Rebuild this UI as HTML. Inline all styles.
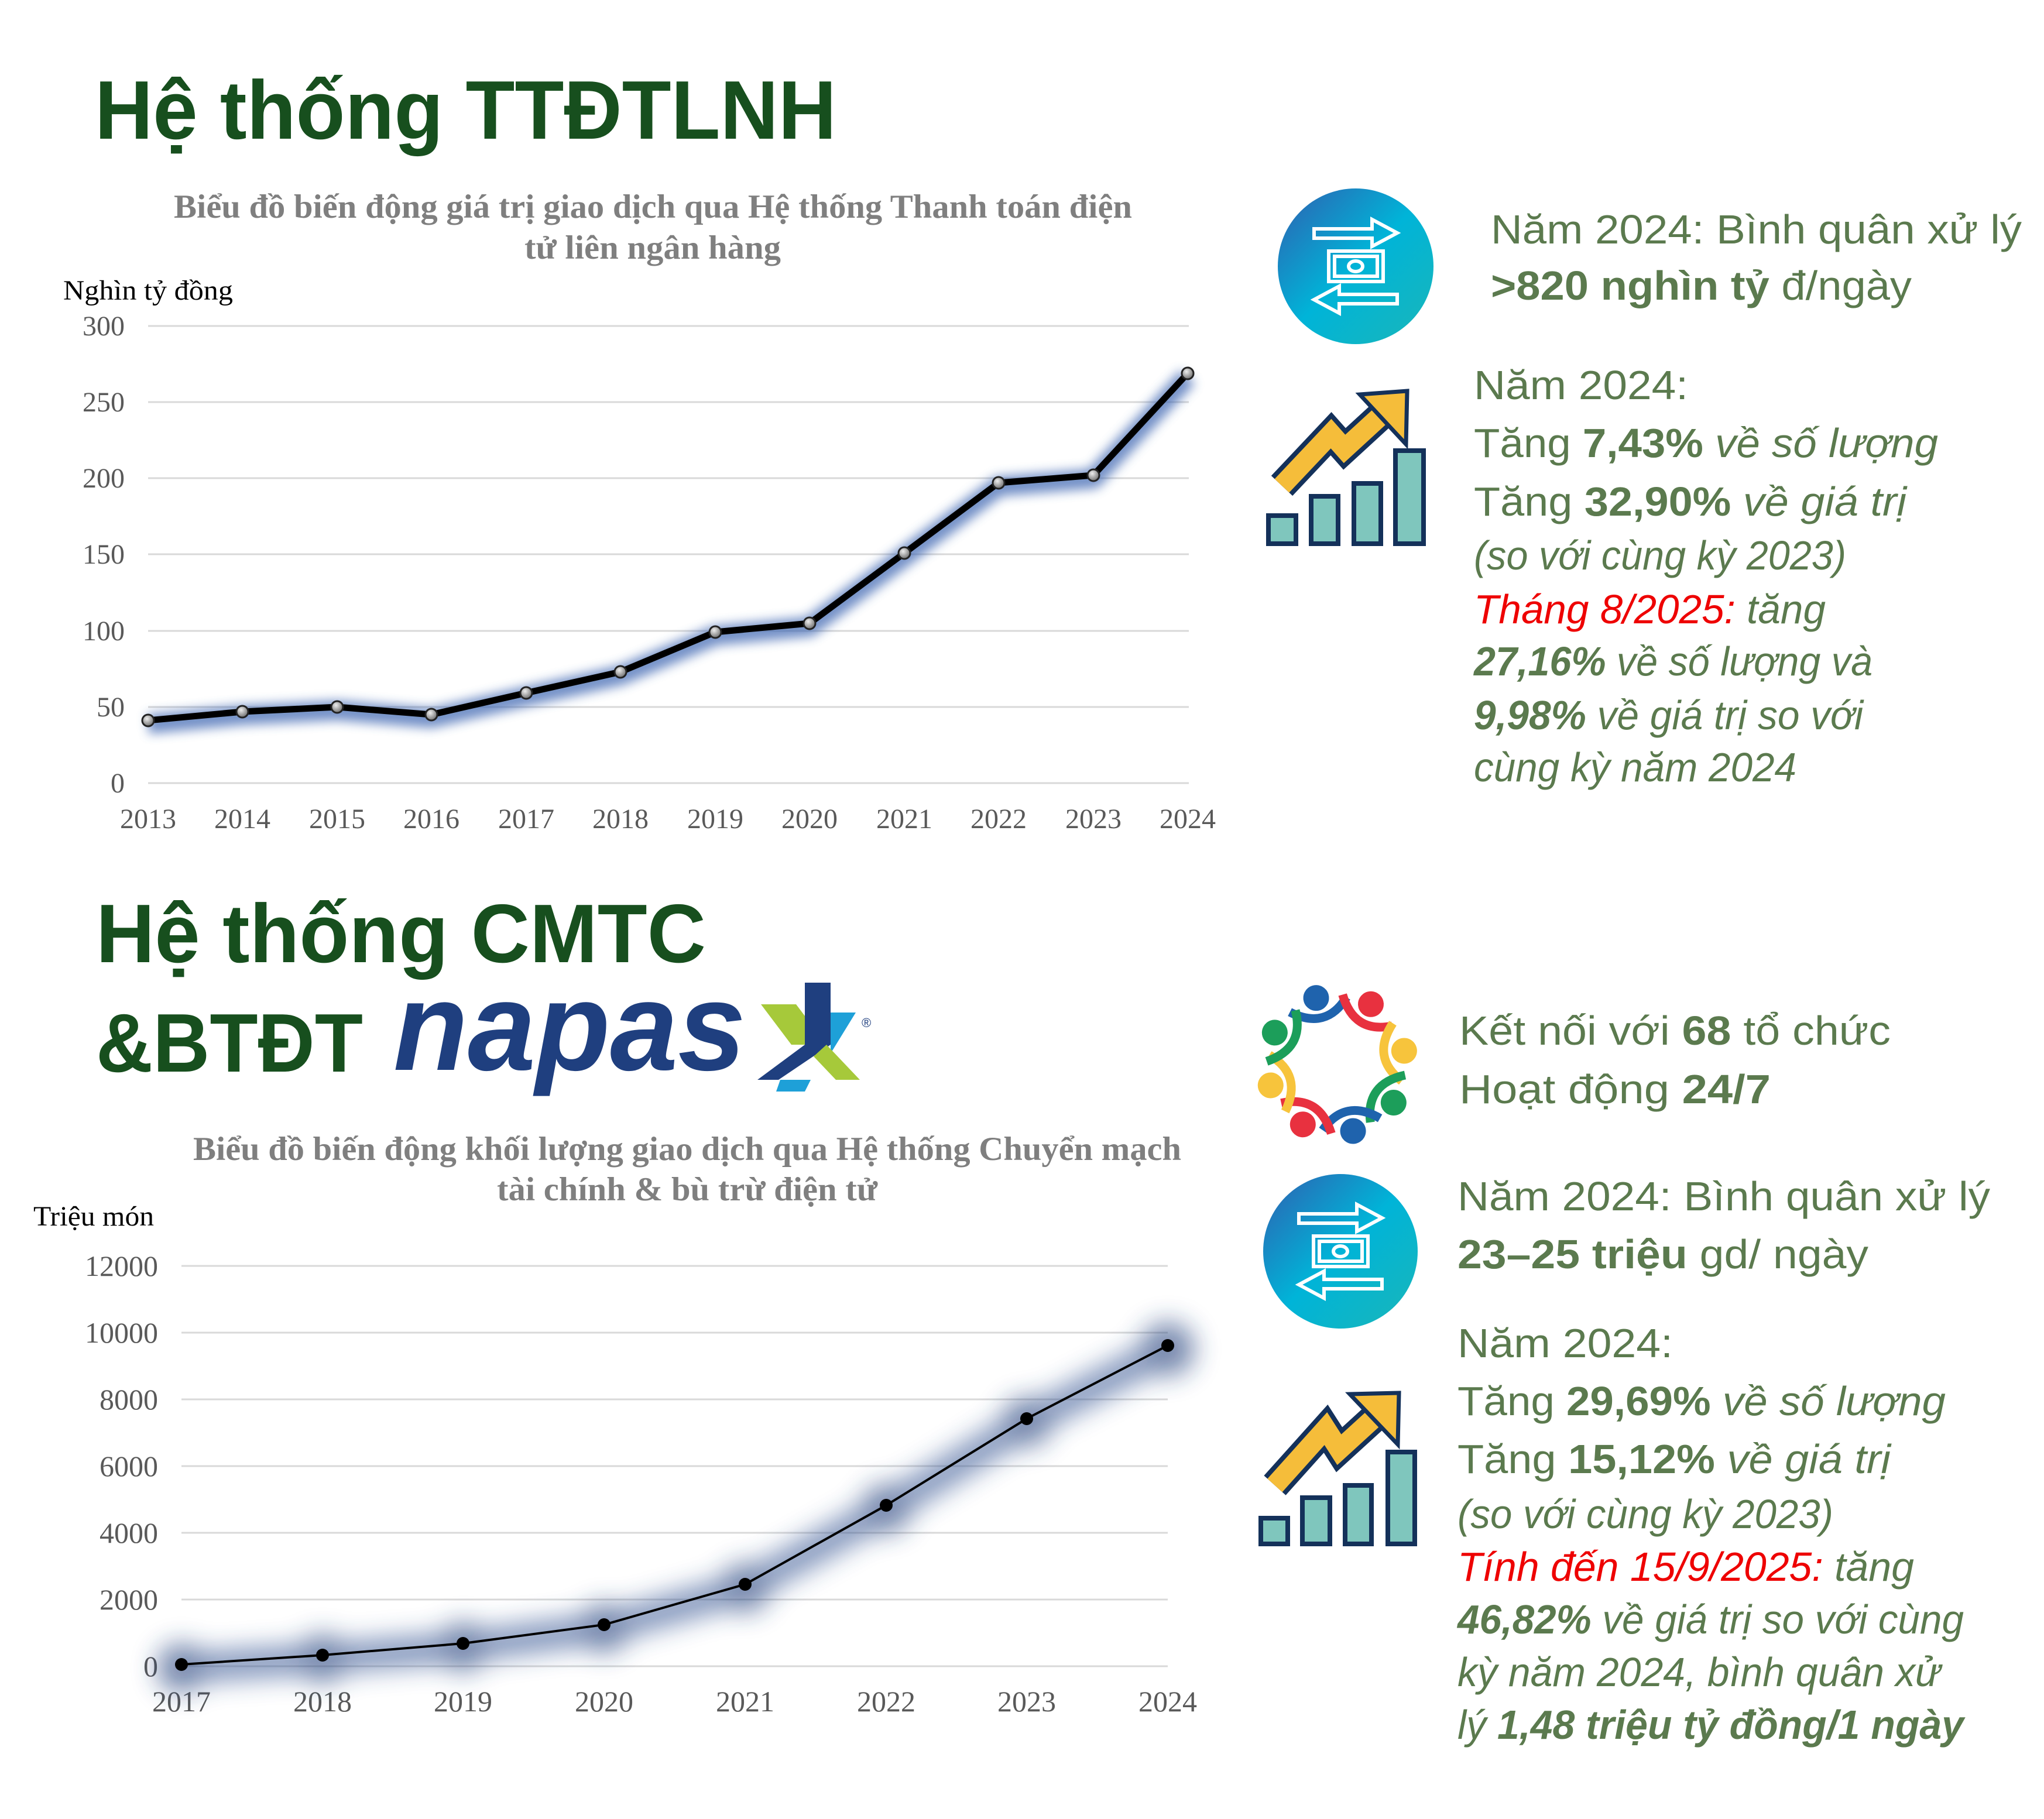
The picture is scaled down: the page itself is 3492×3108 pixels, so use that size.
<!DOCTYPE html>
<html><head><meta charset="utf-8"><style>
html,body{margin:0;padding:0;background:#fff}
svg{display:block}
</style></head><body>
<svg xmlns="http://www.w3.org/2000/svg" width="3492" height="3108" viewBox="0 0 3492 3108">
<defs>
<filter id="g1" x="-10%" y="-20%" width="120%" height="140%"><feGaussianBlur stdDeviation="9"/></filter>
<filter id="g2" x="-10%" y="-20%" width="120%" height="140%"><feGaussianBlur stdDeviation="22"/></filter>
<linearGradient id="cg" x1="0" y1="0" x2="1" y2="1">
<stop offset="0" stop-color="#2f5fb0"/><stop offset="0.5" stop-color="#00b4d8"/><stop offset="1" stop-color="#1ab6b8"/>
</linearGradient>
<radialGradient id="mk" cx="0.4" cy="0.35" r="0.7"><stop offset="0" stop-color="#eee"/><stop offset="1" stop-color="#666"/></radialGradient>
</defs>

<!-- Titles -->
<g font-family="Liberation Sans, sans-serif" font-weight="bold" fill="#174f1e">
<text x="162" y="237" font-size="142" textLength="1267" lengthAdjust="spacingAndGlyphs">Hệ thống TTĐTLNH</text>
<text x="164" y="1644" font-size="142" textLength="1042" lengthAdjust="spacingAndGlyphs">Hệ thống CMTC</text>
<text x="164" y="1831" font-size="142" textLength="456" lengthAdjust="spacingAndGlyphs">&amp;BTĐT</text>
</g>
<!-- napas logo -->
<text x="672" y="1828" font-family="Liberation Sans, sans-serif" font-weight="bold" font-style="italic" font-size="215" fill="#1f3f7f" textLength="602" lengthAdjust="spacingAndGlyphs">napas</text>
<g>
<polygon points="1300,1716 1360,1716 1412,1785 1352,1785" fill="#a6c93a"/>
<polygon points="1375,1679 1419,1679 1419,1785 1375,1785" fill="#1f3f7f"/>
<polygon points="1419,1730 1462,1730 1419,1800" fill="#1ea0d8"/>
<polygon points="1375,1785 1419,1785 1330,1845 1294,1845" fill="#1f3f7f"/>
<polygon points="1412,1785 1469,1845 1428,1845 1390,1805" fill="#a6c93a"/>
<polygon points="1333,1845 1385,1845 1375,1865 1326,1865" fill="#1ea0d8"/>
<text x="1472" y="1755" font-family="Liberation Sans, sans-serif" font-size="22" fill="#1f3f7f">®</text>
</g>

<!-- Chart 1 -->
<g font-family="Liberation Serif, serif" font-weight="bold" fill="#7f7f7f" font-size="57">
<text x="297" y="372" textLength="1637" lengthAdjust="spacingAndGlyphs">Biểu đồ biến động giá trị giao dịch qua Hệ thống Thanh toán điện</text>
<text x="896" y="442" textLength="438" lengthAdjust="spacingAndGlyphs">tử liên ngân hàng</text>
</g>
<text x="108" y="512" font-family="Liberation Serif, serif" font-size="48" fill="#000" textLength="290" lengthAdjust="spacingAndGlyphs">Nghìn tỷ đồng</text>
<g stroke="#d9d9d9" stroke-width="3">
<line x1="253" y1="557" x2="2031" y2="557"/><line x1="253" y1="687" x2="2031" y2="687"/>
<line x1="253" y1="817" x2="2031" y2="817"/><line x1="253" y1="947" x2="2031" y2="947"/>
<line x1="253" y1="1078" x2="2031" y2="1078"/><line x1="253" y1="1208" x2="2031" y2="1208"/>
<line x1="253" y1="1338" x2="2031" y2="1338"/>
</g>
<g font-family="Liberation Serif, serif" font-size="48" fill="#595959" text-anchor="end">
<text x="213" y="573">300</text><text x="213" y="703">250</text><text x="213" y="833">200</text>
<text x="213" y="963">150</text><text x="213" y="1094">100</text><text x="213" y="1224">50</text><text x="213" y="1354">0</text>
</g>
<g font-family="Liberation Serif, serif" font-size="48" fill="#595959" text-anchor="middle">
<text x="253" y="1415">2013</text><text x="414" y="1415">2014</text><text x="576" y="1415">2015</text>
<text x="737" y="1415">2016</text><text x="899" y="1415">2017</text><text x="1060" y="1415">2018</text>
<text x="1222" y="1415">2019</text><text x="1383" y="1415">2020</text><text x="1545" y="1415">2021</text>
<text x="1706" y="1415">2022</text><text x="1868" y="1415">2023</text><text x="2029" y="1415">2024</text>
</g>
<polyline points="253,1237 414,1222 576,1214 737,1227 899,1190 1060,1154 1222,1086 1383,1071 1545,951 1706,831 1868,818 2029,644" fill="none" stroke="#3a64b0" stroke-width="34" stroke-linejoin="round" opacity="0.7" filter="url(#g1)"/>
<polyline points="253,1231 414,1216 576,1208 737,1221 899,1184 1060,1148 1222,1080 1383,1065 1545,945 1706,825 1868,812 2029,638" fill="none" stroke="#000" stroke-width="11" stroke-linejoin="round"/>
<g fill="url(#mk)" stroke="#222" stroke-width="3">
<circle cx="253" cy="1231" r="10"/><circle cx="414" cy="1216" r="10"/><circle cx="576" cy="1208" r="10"/>
<circle cx="737" cy="1221" r="10"/><circle cx="899" cy="1184" r="10"/><circle cx="1060" cy="1148" r="10"/>
<circle cx="1222" cy="1080" r="10"/><circle cx="1383" cy="1065" r="10"/><circle cx="1545" cy="945" r="10"/>
<circle cx="1706" cy="825" r="10"/><circle cx="1868" cy="812" r="10"/><circle cx="2029" cy="638" r="10"/>
</g>

<!-- Chart 2 -->
<g font-family="Liberation Serif, serif" font-weight="bold" fill="#7f7f7f" font-size="57">
<text x="330" y="1982" textLength="1688" lengthAdjust="spacingAndGlyphs">Biểu đồ biến động khối lượng giao dịch qua Hệ thống Chuyển mạch</text>
<text x="849" y="2051" textLength="650" lengthAdjust="spacingAndGlyphs">tài chính &amp; bù trừ điện tử</text>
</g>
<text x="57" y="2094" font-family="Liberation Serif, serif" font-size="48" fill="#000" textLength="206" lengthAdjust="spacingAndGlyphs">Triệu món</text>
<g stroke="#d9d9d9" stroke-width="3">
<line x1="310" y1="2163" x2="1995" y2="2163"/><line x1="310" y1="2277" x2="1995" y2="2277"/>
<line x1="310" y1="2391" x2="1995" y2="2391"/><line x1="310" y1="2505" x2="1995" y2="2505"/>
<line x1="310" y1="2619" x2="1995" y2="2619"/><line x1="310" y1="2733" x2="1995" y2="2733"/>
<line x1="310" y1="2847" x2="1995" y2="2847"/>
</g>
<g font-family="Liberation Serif, serif" font-size="50" fill="#595959" text-anchor="end">
<text x="270" y="2180">12000</text><text x="270" y="2294">10000</text><text x="270" y="2408">8000</text>
<text x="270" y="2522">6000</text><text x="270" y="2636">4000</text><text x="270" y="2750">2000</text><text x="270" y="2864">0</text>
</g>
<g font-family="Liberation Serif, serif" font-size="50" fill="#595959" text-anchor="middle">
<text x="310" y="2924">2017</text><text x="551" y="2924">2018</text><text x="791" y="2924">2019</text>
<text x="1032" y="2924">2020</text><text x="1273" y="2924">2021</text><text x="1514" y="2924">2022</text>
<text x="1754" y="2924">2023</text><text x="1995" y="2924">2024</text>
</g>
<g filter="url(#g2)" opacity="0.6">
<polyline points="310,2850 551,2834 791,2814 1032,2782 1273,2713 1514,2578 1754,2430 1995,2305" fill="none" stroke="#2c4c8c" stroke-width="50" stroke-linejoin="round"/>
<g fill="#1e3a78">
<circle cx="310" cy="2850" r="42"/><circle cx="551" cy="2834" r="42"/><circle cx="791" cy="2814" r="42"/>
<circle cx="1032" cy="2782" r="42"/><circle cx="1273" cy="2713" r="42"/><circle cx="1514" cy="2578" r="42"/>
<circle cx="1754" cy="2430" r="42"/><circle cx="1995" cy="2305" r="46"/>
</g></g>
<polyline points="310,2844 551,2828 791,2808 1032,2776 1273,2707 1514,2572 1754,2424 1995,2299" fill="none" stroke="#000" stroke-width="4"/>
<g fill="#000">
<circle cx="310" cy="2844" r="11"/><circle cx="551" cy="2828" r="11"/><circle cx="791" cy="2808" r="11"/>
<circle cx="1032" cy="2776" r="11"/><circle cx="1273" cy="2707" r="11"/><circle cx="1514" cy="2572" r="11"/>
<circle cx="1754" cy="2424" r="11"/><circle cx="1995" cy="2299" r="11"/>
</g>

<!-- Exchange icons -->
<g transform="translate(2316,455)">
<circle r="133" fill="url(#cg)"/>
<g fill="none" stroke="#fff" stroke-width="6" stroke-linejoin="miter">
<polygon points="-71,-64 28,-64 28,-80 71,-57 28,-34 28,-48 -71,-48"/>
<rect x="-46" y="-26" width="93" height="52"/><rect x="-36" y="-17" width="73" height="34"/>
<ellipse cx="0" cy="0" rx="12" ry="9"/>
<polygon points="71,48 -28,48 -28,34 -71,57 -28,80 -28,64 71,64"/>
</g></g>
<g transform="translate(2290,2138)">
<circle r="132" fill="url(#cg)"/>
<g fill="none" stroke="#fff" stroke-width="6">
<polygon points="-71,-64 28,-64 28,-80 71,-57 28,-34 28,-48 -71,-48"/>
<rect x="-46" y="-26" width="93" height="52"/><rect x="-36" y="-17" width="73" height="34"/>
<ellipse cx="0" cy="0" rx="12" ry="9"/>
<polygon points="71,48 -28,48 -28,34 -71,57 -28,80 -28,64 71,64"/>
</g></g>

<!-- Chart icons -->
<g stroke="#14315a" stroke-width="8" fill="#7fc6bd">
<rect x="2167" y="881" width="47" height="48"/><rect x="2240" y="848" width="46" height="81"/>
<rect x="2313" y="826" width="46" height="103"/><rect x="2384" y="770" width="48" height="159"/>
<rect x="2154" y="2594" width="46" height="44"/><rect x="2225" y="2559" width="47" height="79"/>
<rect x="2298" y="2538" width="45" height="100"/><rect x="2371" y="2481" width="46" height="157"/>
</g>
<g fill="none" stroke-linejoin="miter" stroke-linecap="butt">
<polyline points="2190,830 2274,741 2297,767 2370,700" stroke="#14315a" stroke-width="50"/>
<polyline points="2190,830 2274,741 2297,767 2370,700" stroke="#f5bd3a" stroke-width="34"/>
<polyline points="2178,2538 2265,2441 2288,2477 2357,2414" stroke="#14315a" stroke-width="50"/>
<polyline points="2178,2538 2265,2441 2288,2477 2357,2414" stroke="#f5bd3a" stroke-width="34"/>
</g>
<polygon points="2323,674 2404,668 2402,759" fill="#f5bd3a" stroke="#14315a" stroke-width="7"/>
<polygon points="2306,2382 2390,2380 2388,2468" fill="#f5bd3a" stroke="#14315a" stroke-width="7"/>

<!-- People icon -->
<g transform="translate(2283,1818)">
<g transform="rotate(-17)"><circle cy="-118" r="22" fill="#1f63ad"/><path d="M-50,-108 Q0,-60 50,-104" fill="none" stroke="#1f63ad" stroke-width="15"/></g>
<g transform="rotate(30)"><circle cy="-118" r="22" fill="#e8313f"/><path d="M-50,-108 Q0,-60 50,-104" fill="none" stroke="#e8313f" stroke-width="15"/></g>
<g transform="rotate(79)"><circle cy="-118" r="22" fill="#f7c43c"/><path d="M-50,-108 Q0,-60 50,-104" fill="none" stroke="#f7c43c" stroke-width="15"/></g>
<g transform="rotate(124)"><circle cy="-118" r="22" fill="#1c9e5a"/><path d="M-50,-108 Q0,-60 50,-104" fill="none" stroke="#1c9e5a" stroke-width="15"/></g>
<g transform="rotate(166)"><circle cy="-118" r="22" fill="#1f63ad"/><path d="M-50,-108 Q0,-60 50,-104" fill="none" stroke="#1f63ad" stroke-width="15"/></g>
<g transform="rotate(209)"><circle cy="-118" r="22" fill="#e8313f"/><path d="M-50,-108 Q0,-60 50,-104" fill="none" stroke="#e8313f" stroke-width="15"/></g>
<g transform="rotate(252)"><circle cy="-118" r="22" fill="#f7c43c"/><path d="M-50,-108 Q0,-60 50,-104" fill="none" stroke="#f7c43c" stroke-width="15"/></g>
<g transform="rotate(297)"><circle cy="-118" r="22" fill="#1c9e5a"/><path d="M-50,-108 Q0,-60 50,-104" fill="none" stroke="#1c9e5a" stroke-width="15"/></g>
</g>

<!-- Right texts -->
<g font-family="Liberation Sans, sans-serif" font-size="70" fill="#5b7a4e">
<text x="2547" y="416" textLength="907" lengthAdjust="spacingAndGlyphs">Năm 2024: Bình quân xử lý</text>
<text x="2547" y="512" textLength="719" lengthAdjust="spacingAndGlyphs"><tspan font-weight="bold">&gt;820 nghìn tỷ</tspan> đ/ngày</text>
<text x="2518" y="682" textLength="366" lengthAdjust="spacingAndGlyphs">Năm 2024:</text>
<text x="2518" y="781" textLength="793" lengthAdjust="spacingAndGlyphs">Tăng <tspan font-weight="bold">7,43%</tspan> <tspan font-style="italic">về số lượng</tspan></text>
<text x="2518" y="881" textLength="739" lengthAdjust="spacingAndGlyphs">Tăng <tspan font-weight="bold">32,90%</tspan> <tspan font-style="italic">về giá trị</tspan></text>
<text x="2518" y="973" font-style="italic" textLength="636" lengthAdjust="spacingAndGlyphs">(so với cùng kỳ 2023)</text>
<text x="2518" y="1065" font-style="italic" textLength="601" lengthAdjust="spacingAndGlyphs"><tspan fill="#ee0000">Tháng 8/2025:</tspan> tăng</text>
<text x="2518" y="1154" font-style="italic" textLength="681" lengthAdjust="spacingAndGlyphs"><tspan font-weight="bold">27,16%</tspan> về số lượng và</text>
<text x="2518" y="1246" font-style="italic" textLength="665" lengthAdjust="spacingAndGlyphs"><tspan font-weight="bold">9,98%</tspan> về giá trị so với</text>
<text x="2518" y="1335" font-style="italic" textLength="551" lengthAdjust="spacingAndGlyphs">cùng kỳ năm 2024</text>

<text x="2493" y="1785" textLength="737" lengthAdjust="spacingAndGlyphs">Kết nối với <tspan font-weight="bold">68</tspan> tổ chức</text>
<text x="2493" y="1885" textLength="532" lengthAdjust="spacingAndGlyphs">Hoạt động <tspan font-weight="bold">24/7</tspan></text>
<text x="2490" y="2068" textLength="910" lengthAdjust="spacingAndGlyphs">Năm 2024: Bình quân xử lý</text>
<text x="2490" y="2167" textLength="702" lengthAdjust="spacingAndGlyphs"><tspan font-weight="bold">23–25 triệu</tspan> gd/ ngày</text>
<text x="2490" y="2319" textLength="368" lengthAdjust="spacingAndGlyphs">Năm 2024:</text>
<text x="2490" y="2418" textLength="834" lengthAdjust="spacingAndGlyphs">Tăng <tspan font-weight="bold">29,69%</tspan> <tspan font-style="italic">về số lượng</tspan></text>
<text x="2490" y="2517" textLength="740" lengthAdjust="spacingAndGlyphs">Tăng <tspan font-weight="bold">15,12%</tspan> <tspan font-style="italic">về giá trị</tspan></text>
<text x="2490" y="2611" font-style="italic" textLength="642" lengthAdjust="spacingAndGlyphs">(so với cùng kỳ 2023)</text>
<text x="2490" y="2701" font-style="italic" textLength="780" lengthAdjust="spacingAndGlyphs"><tspan fill="#ee0000">Tính đến 15/9/2025:</tspan> tăng</text>
<text x="2490" y="2791" font-style="italic" textLength="865" lengthAdjust="spacingAndGlyphs"><tspan font-weight="bold">46,82%</tspan> về giá trị so với cùng</text>
<text x="2490" y="2881" font-style="italic" textLength="825" lengthAdjust="spacingAndGlyphs">kỳ năm 2024, bình quân xử</text>
<text x="2490" y="2971" font-style="italic" textLength="865" lengthAdjust="spacingAndGlyphs">lý <tspan font-weight="bold">1,48 triệu tỷ đồng/1 ngày</tspan></text>
</g>
</svg>
</body></html>
